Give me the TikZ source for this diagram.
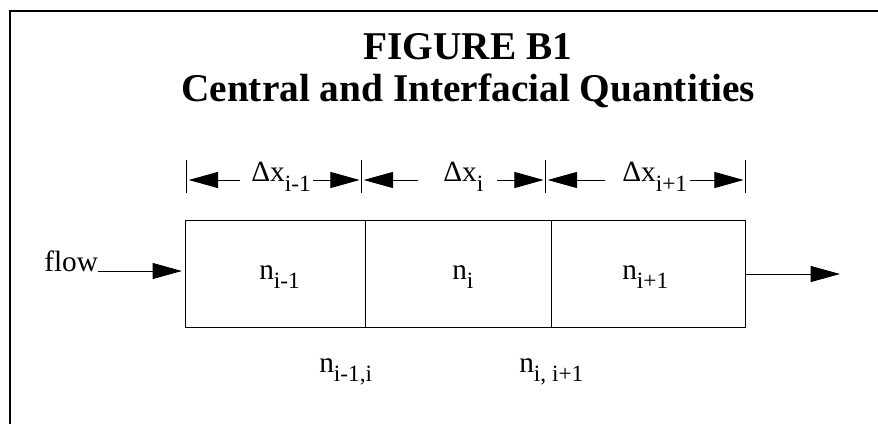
\documentclass[tikz,border=0pt]{standalone}
\usepackage{fontspec}
\setmainfont{Liberation Serif}
\usetikzlibrary{arrows.meta}

% subscripts drawn low and fairly large, as in the figure
\newcommand{\lowsub}[1]{\raisebox{-7pt}{\fontsize{17.5}{18}\selectfont #1}}

\begin{document}
\begin{tikzpicture}[x=0.75pt, y=-0.75pt,
	cell/.style={draw, line width=0.7pt, minimum height=80.25pt, inner sep=0pt},
	lbl/.style={font=\fontsize{22}{24}\selectfont, inner sep=0pt, anchor=base west},
	ttl/.style={font=\fontsize{29.5}{32}\selectfont\bfseries, inner sep=0pt, anchor=base},
	dim/.style={-{Triangle[length=22pt, width=12pt]}, line width=0.7pt},
	tick/.style={line width=0.7pt}]
	\useasboundingbox (0,0) rectangle (878,424);
	
	% Cornice
	\draw[line width=1.3pt] (10,424) -- (10,11) -- (878,11);
	
	% Titolo
	\node[ttl] (t1) at (468,60) {FIGURE B1};
	\node[ttl] (t2) at (468,102) {Central and Interfacial Quantities};
	
	% Celle
	\node[cell, minimum width=135pt] (c1) at (275,273.5) {};
	\node[cell, minimum width=139.5pt] (c2) at (458,273.5) {};
	\node[cell, minimum width=145.5pt] (c3) at (648,273.5) {};
	
	% Valori centrali
	\node[lbl] (n1) at (259,279) {n\lowsub{i-1}};
	\node[lbl] (n2) at (452,279) {n\lowsub{i}};
	\node[lbl] (n3) at (622,279) {n\lowsub{i+1}};
	
	% Valori alle interfacce
	\node[lbl] (f1) at (319,372) {n\lowsub{i-1,i}};
	\node[lbl] (f2) at (519,372) {n\lowsub{i, i+1}};
	
	% Tacche delle quote
	\foreach \x/\n in {186/q0, 361/q1, 545/q2, 745/q3} {
		\draw[tick] (\x,160) -- (\x,193);
		\coordinate (\n) at (\x,180);
	}
	
	% Quote
	\node[lbl] (d1) at (251,182) {Δx\lowsub{i-1}};
	\node[lbl] (d2) at (443,182) {Δx\lowsub{i}};
	\node[lbl] (d3) at (622,182) {Δx\lowsub{i+1}};
	\coordinate (d1l) at (240,180);
	\coordinate (d1r) at (313,180);
	\coordinate (d2l) at (418,180);
	\coordinate (d2r) at (497,180);
	\coordinate (d3l) at (605,180);
	\coordinate (d3r) at (690,180);
	\draw[dim, shorten >=2pt] (d1l) -- (q0);
	\draw[dim, shorten >=1pt] (d1r) -- (q1);
	\draw[dim, shorten >=2pt] (d2l) -- (q1);
	\draw[dim, shorten >=1pt] (d2r) -- (q2);
	\draw[dim, shorten >=2pt] (d3l) -- (q2);
	\draw[dim, shorten >=1pt] (d3r) -- (q3);
	
	% Flusso
	\node[lbl] (flow) at (44,271) {flow};
	\coordinate (out) at (840,274);
	\draw[dim, shorten >=2pt] (flow.base east) -- (c1.west |- flow.base);
	\draw[dim] (c3.east |- out) -- (out);
\end{tikzpicture}
\end{document}
